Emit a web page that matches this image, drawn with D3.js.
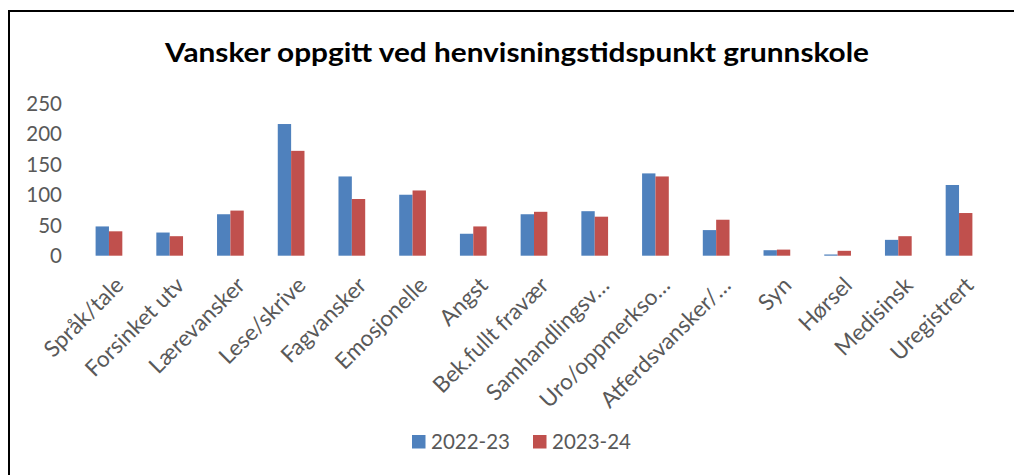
<!DOCTYPE html>
<html>
<head>
<meta charset="utf-8">
<script src="https://cdn.jsdelivr.net/npm/d3@7"></script>
<style>
  html, body { margin: 0; padding: 0; background: #fff; }
  svg { display: block; }
</style>
</head>
<body>
<svg id="chart" width="1014" height="475"></svg>
<script>
const categories = ["Språk/tale", "Forsinket utv", "Lærevansker", "Lese/skrive", "Fagvansker", "Emosjonelle", "Angst", "Bek.fullt fravær", "Samhandlingsv…", "Uro/oppmerkso…", "Atferdsvansker/…", "Syn", "Hørsel", "Medisinsk", "Uregistrert"];
const seriesNames = ["2022-23", "2023-24"];
const values2022 = [48, 38, 68, 216, 130, 100, 36, 68, 73, 135, 42, 9, 2, 26, 116];
const values2023 = [40, 32, 74, 172, 93, 107, 48, 72, 64, 130, 59, 10, 8, 32, 70];
const yTicks = [0, 50, 100, 150, 200, 250];
const title = "Vansker oppgitt ved henvisningstidspunkt grunnskole";
const colors = ["#4F81BD", "#C0504D"];

const seriesValues = [values2022, values2023];
const svg = d3.select("#chart");
const font = "Lato, 'Open Sans', sans-serif";
const grey = "#595959";

// frame (top + left edges visible)
svg.append("path")
  .attr("d", "M9,1014 L9,11 L1014,11")
  .attr("fill", "none").attr("stroke", "#000").attr("stroke-width", 2);

// title
svg.append("text")
  .attr("x", 517).attr("y", 62)
  .attr("text-anchor", "middle")
  .attr("font-family", font).attr("font-weight", "bold")
  .attr("font-size", 27).attr("fill", "#000")
  .attr("textLength", 704).attr("lengthAdjust", "spacingAndGlyphs")
  .text(title);

const y = d3.scaleLinear().domain([0, 250]).range([255.7, 103.3]);
const x = d3.scaleBand().domain(categories).range([78.6, 989.4]).paddingInner(0.56).paddingOuter(0.28);
const xs = d3.scaleBand().domain(seriesNames).range([0, x.bandwidth()]);

// y axis labels
const yAxis = svg.append("g").attr("transform", "translate(62,0)")
  .call(d3.axisLeft(y).tickValues(yTicks).tickSize(0).tickPadding(0));
yAxis.select(".domain").remove();
yAxis.selectAll("text")
  .attr("font-family", font).attr("font-size", 20.5).attr("fill", grey)
  .attr("dy", "0.35em");

// bars
const groups = svg.append("g").selectAll("g")
  .data(categories).join("g")
  .attr("transform", d => `translate(${x(d)},0)`);
groups.selectAll("rect")
  .data((d, i) => seriesNames.map((s, j) => ({ s, v: seriesValues[j][i], j })))
  .join("rect")
  .attr("x", d => xs(d.s))
  .attr("width", xs.bandwidth())
  .attr("y", d => y(d.v))
  .attr("height", d => y(0) - y(d.v))
  .attr("fill", d => colors[d.j]);

// x axis labels
const xAxis = svg.append("g").attr("transform", "translate(0,255.7)")
  .call(d3.axisBottom(x).tickSize(0).tickPadding(0));
xAxis.select(".domain").remove();
xAxis.selectAll("text")
  .attr("font-family", font).attr("font-size", 22.5).attr("fill", grey)
  .attr("text-anchor", "end")
  .attr("dy", null).attr("y", 0)
  .attr("transform", "translate(16,31) rotate(-45)");

// legend
const legend = svg.append("g");
const legendX = [412, 533];
seriesNames.forEach((s, j) => {
  legend.append("rect")
    .attr("x", legendX[j]).attr("y", 435).attr("width", 13.5).attr("height", 13.5)
    .attr("fill", colors[j]);
  legend.append("text")
    .attr("x", legendX[j] + 19).attr("y", 449)
    .attr("font-family", font).attr("font-size", 20.5).attr("fill", grey)
    .text(s);
});
</script>
</body>
</html>
